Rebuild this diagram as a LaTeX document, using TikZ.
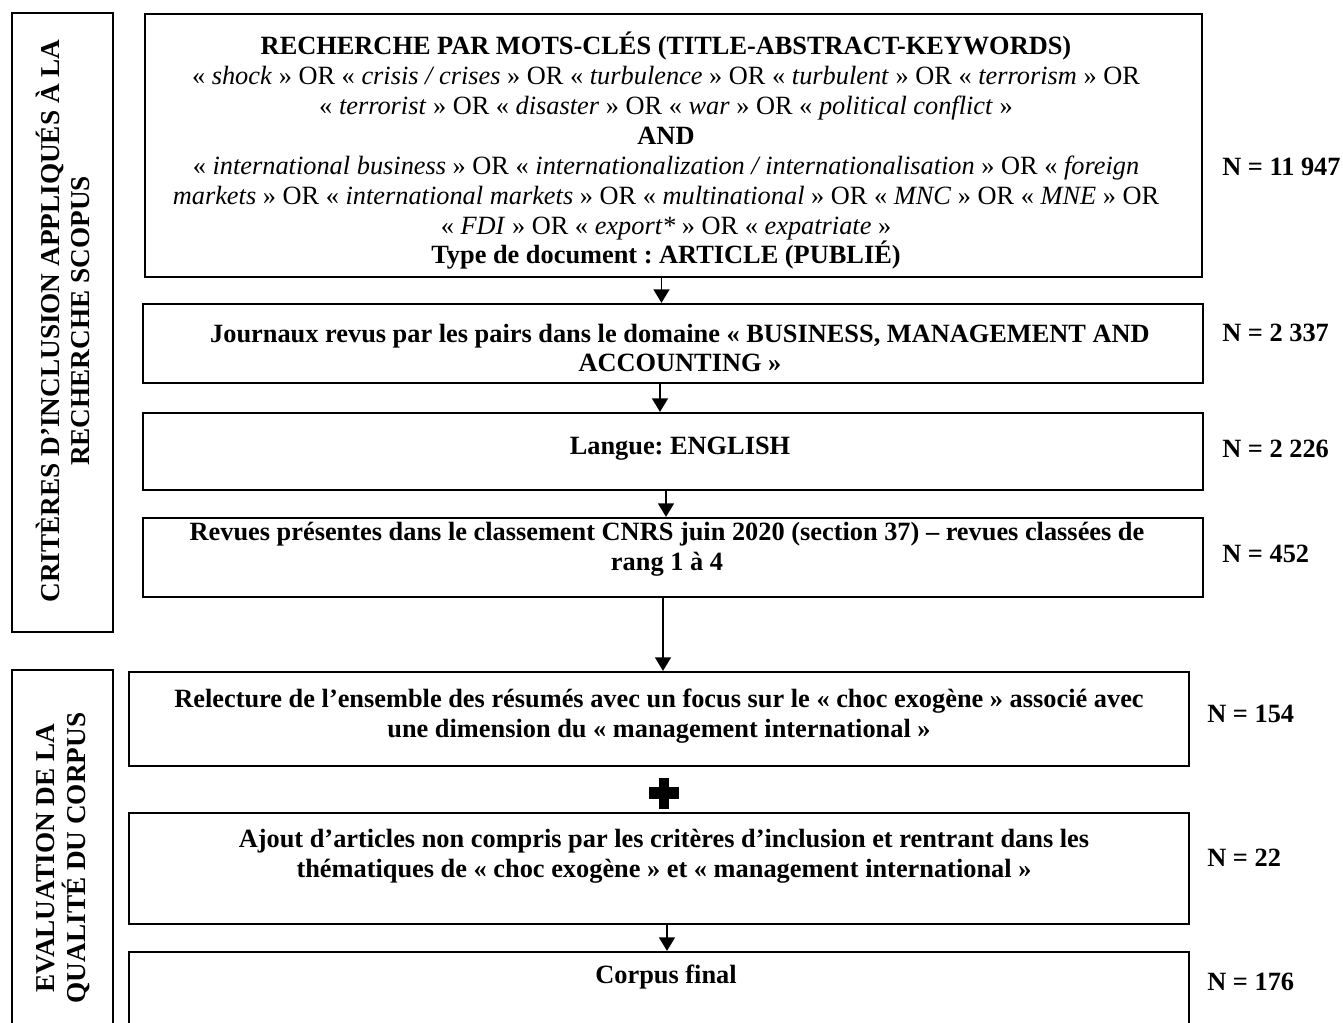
\documentclass[tikz,border=0pt]{standalone}
\usepackage{fontspec}
\setmainfont{Liberation Serif}
\frenchspacing
\usetikzlibrary{arrows.meta,positioning}

\begin{document}
\begin{tikzpicture}[x=0.02cm,y=-0.02cm,
    boite/.style={draw,line width=1.3pt,inner sep=0pt,minimum width=21.2cm},
    cadre/.style={draw,line width=0.8pt,inner sep=0pt,minimum width=2.02cm},
    texte/.style={align=center,inner sep=0pt,font={\fontsize{15}{17}\selectfont\bfseries}},
    motscles/.style={align=center,inner sep=0pt,font={\fontsize{15}{17}\selectfont}},
    vertical/.style={rotate=90,align=center,inner sep=0pt,font={\fontsize{15.5}{17.5}\selectfont\bfseries}},
    effectif/.style={anchor=west,inner sep=0pt,font={\fontsize{15}{17}\selectfont\bfseries}},
    fleche/.style={-{Triangle[length=0.27cm,width=0.32cm]},line width=0.8pt}]
  \clip (0,0) rectangle (1343,1023);
  \useasboundingbox (0,0) rectangle (1343,1023);

  % cadres de gauche
  \node[cadre,minimum height=12.38cm] (criteres) at (62.5,322.5) {};
  \node[cadre,minimum height=7.8cm] (evaluation) at (62.5,865) {};
  \node[vertical] (tcriteres) at (63,321) {CRITÈRES D’INCLUSION APPLIQUÉS À LA\\RECHERCHE SCOPUS};
  \node[vertical] (tevaluation) at (63,858) {EVALUATION DE LA\\QUALITÉ DU CORPUS};

  % etapes
  \node[boite,minimum width=21.14cm,minimum height=5.26cm] (recherche) at (673.5,145.5) {};
  \node[boite,minimum height=1.58cm] (journaux) at (673,343.5) {};
  \node[boite,minimum height=1.54cm] (langue) at (673,451.5) {};
  \node[boite,minimum height=1.58cm] (revues) at (673,557.5) {};
  \node[boite,minimum height=1.88cm] (relecture) at (659,719) {};
  \node[boite,minimum height=2.22cm] (ajout) at (659,868.5) {};
  \node[boite,minimum height=2.16cm] (corpus) at (659,1006) {};

  \node[motscles] (trecherche) at (666,151) {\textbf{RECHERCHE PAR MOTS-CLÉS (TITLE-ABSTRACT-KEYWORDS)}\\
    « \textit{shock} » OR « \textit{crisis / crises} » OR « \textit{turbulence} » OR « \textit{turbulent} » OR « \textit{terrorism} » OR\\
    « \textit{terrorist} » OR « \textit{disaster} » OR « \textit{war} » OR « \textit{political conflict} »\\
    \textbf{AND}\\
    « \textit{international business} » OR « \textit{internationalization / internationalisation} » OR « \textit{foreign}\\
    \textit{markets} » OR « \textit{international markets} » OR « \textit{multinational} » OR « \textit{MNC} » OR « \textit{MNE} » OR\\
    « \textit{FDI} » OR « \textit{export*} » OR « \textit{expatriate} »\\
    \textbf{Type de document : ARTICLE (PUBLIÉ)}};
  \node[texte] (tjournaux) at (680,348) {Journaux revus par les pairs dans le domaine « BUSINESS, MANAGEMENT AND\\ACCOUNTING »};
  \node[texte] (tlangue) at (680,449) {Langue: ENGLISH};
  \node[texte] (trevues) at (667,549) {Revues présentes dans le classement CNRS juin 2020 (section 37) – revues classées de\\rang 1 à 4};
  \node[texte] (trelecture) at (659,716) {Relecture de l’ensemble des résumés avec un focus sur le « choc exogène » associé avec\\une dimension du « management international »};
  \node[texte] (tajout) at (664,856) {Ajout d’articles non compris par les critères d’inclusion et rentrant dans les\\thématiques de « choc exogène » et « management international »};
  \node[texte] (tcorpus) at (666,977) {Corpus final};

  % effectifs
  \foreach \x/\y/\n/\nom in {1222/167/11 947/a,1222/333/2 337/b,1222/449/2 226/c,1222/554/452/d,
      1207/714/154/e,1207/858/22/f,1207/982/176/g}
    \node[effectif] (n\nom) at (\x,\y) {N = \n};

  % fleches
  \draw[fleche] ([xshift=-0.24cm]recherche.south) -- ([xshift=-0.24cm]recherche.south |- journaux.north);
  \draw[fleche] ([xshift=-0.26cm]journaux.south) -- ([xshift=-0.26cm]journaux.south |- langue.north);
  \draw[fleche] ([xshift=-0.14cm]langue.south) -- ([xshift=-0.14cm]langue.south |- revues.north);
  \draw[fleche] ([xshift=-0.2cm]revues.south) -- ([xshift=-0.2cm]revues.south |- relecture.north);
  \draw[fleche] ([xshift=0.16cm]ajout.south) -- ([xshift=0.16cm]ajout.south |- corpus.north);

  % signe plus
  \fill (649,787) rectangle (679,799);
  \fill (659,778) rectangle (669,809);
\end{tikzpicture}
\end{document}
